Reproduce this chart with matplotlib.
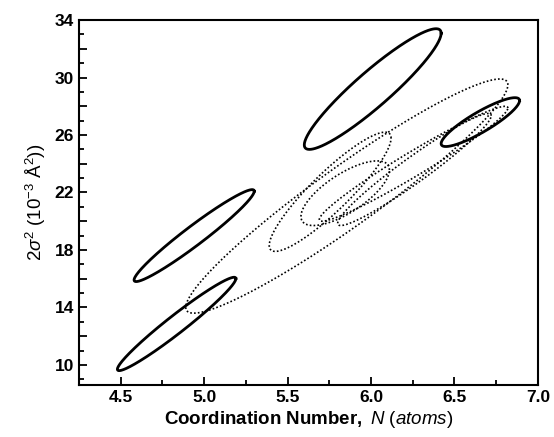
import numpy as np
import matplotlib
matplotlib.use("Agg")
import matplotlib.pyplot as plt
from matplotlib.ticker import MultipleLocator, FuncFormatter

plt.rcParams['font.family'] = ['Liberation Sans', 'DejaVu Sans']
plt.rcParams['mathtext.fontset'] = 'custom'
plt.rcParams['mathtext.rm'] = 'Liberation Sans'
plt.rcParams['mathtext.it'] = 'Liberation Sans:italic'
plt.rcParams['mathtext.bf'] = 'Liberation Sans:bold'

# correlation ellipses: extent in N and 2sigma^2, plus correlation
solid_xlo = [4.48, 4.58, 5.60, 6.42]
solid_xhi = [5.19, 5.30, 6.42, 6.89]
solid_ylo = [9.6, 15.8, 25.0, 25.2]
solid_yhi = [16.1, 22.2, 33.4, 28.6]
solid_rho = [0.97, 0.965, 0.925, 0.88]

dot_xlo = [4.89, 5.39, 5.58, 5.69, 5.80]
dot_xhi = [6.82, 6.12, 6.11, 6.82, 6.72]
dot_ylo = [13.6, 17.9, 19.7, 20.0, 19.7]
dot_yhi = [29.9, 26.2, 24.2, 28.0, 27.5]
dot_rho = [0.95, 0.90, 0.72, 0.97, 0.96]

def ellipse(xlo, xhi, ylo, yhi, rho):
    t = np.linspace(0, 2*np.pi, 400)
    cx, cy = (xlo+xhi)/2, (ylo+yhi)/2
    sx, sy = (xhi-xlo)/2, (yhi-ylo)/2
    x = cx + sx*np.cos(t)
    y = cy + sy*(rho*np.cos(t) + np.sqrt(1-rho**2)*np.sin(t))
    return x, y

fig = plt.figure(figsize=(5.54, 4.37), dpi=100)
ax = fig.add_axes([0.1426, 0.119, 0.8284, 0.835])

for i in range(len(solid_xlo)):
    x, y = ellipse(solid_xlo[i], solid_xhi[i], solid_ylo[i], solid_yhi[i], solid_rho[i])
    ax.plot(x, y, color='black', lw=2.0)

for i in range(len(dot_xlo)):
    x, y = ellipse(dot_xlo[i], dot_xhi[i], dot_ylo[i], dot_yhi[i], dot_rho[i])
    ax.plot(x, y, color='black', lw=1.2, linestyle=(0, (1, 1.3)))

ax.set_xlim(4.25, 7.0)
ax.set_ylim(8.6, 34)
ax.xaxis.set_major_locator(MultipleLocator(0.5))
ax.xaxis.set_minor_locator(MultipleLocator(0.25))
ax.yaxis.set_major_locator(MultipleLocator(2))
ax.yaxis.set_minor_locator(MultipleLocator(1))
ax.xaxis.set_major_formatter(FuncFormatter(lambda v, p: "%.1f" % v))
ax.yaxis.set_major_formatter(FuncFormatter(lambda v, p: "%d" % v if int(round(v)) % 4 == 2 else ""))
ax.tick_params(which='both', direction='in', top=False, right=False, width=1.3)
ax.tick_params(which='major', length=6, labelsize=12.5)
ax.tick_params(which='minor', length=3.5)
for lab in ax.get_xticklabels() + ax.get_yticklabels():
    lab.set_fontweight('bold')
for s in ax.spines.values():
    s.set_linewidth(1.5)

ax.set_xlabel(r'$\mathbf{Coordination\ Number,}\ \mathit{N\ (atoms)}$', fontsize=13.5, labelpad=3)
ax.set_ylabel(r'$2\sigma^2\ (10^{-3}\ \mathrm{\AA}^2))$', fontsize=13.5, labelpad=5)

fig.savefig("out.png", dpi=100)
